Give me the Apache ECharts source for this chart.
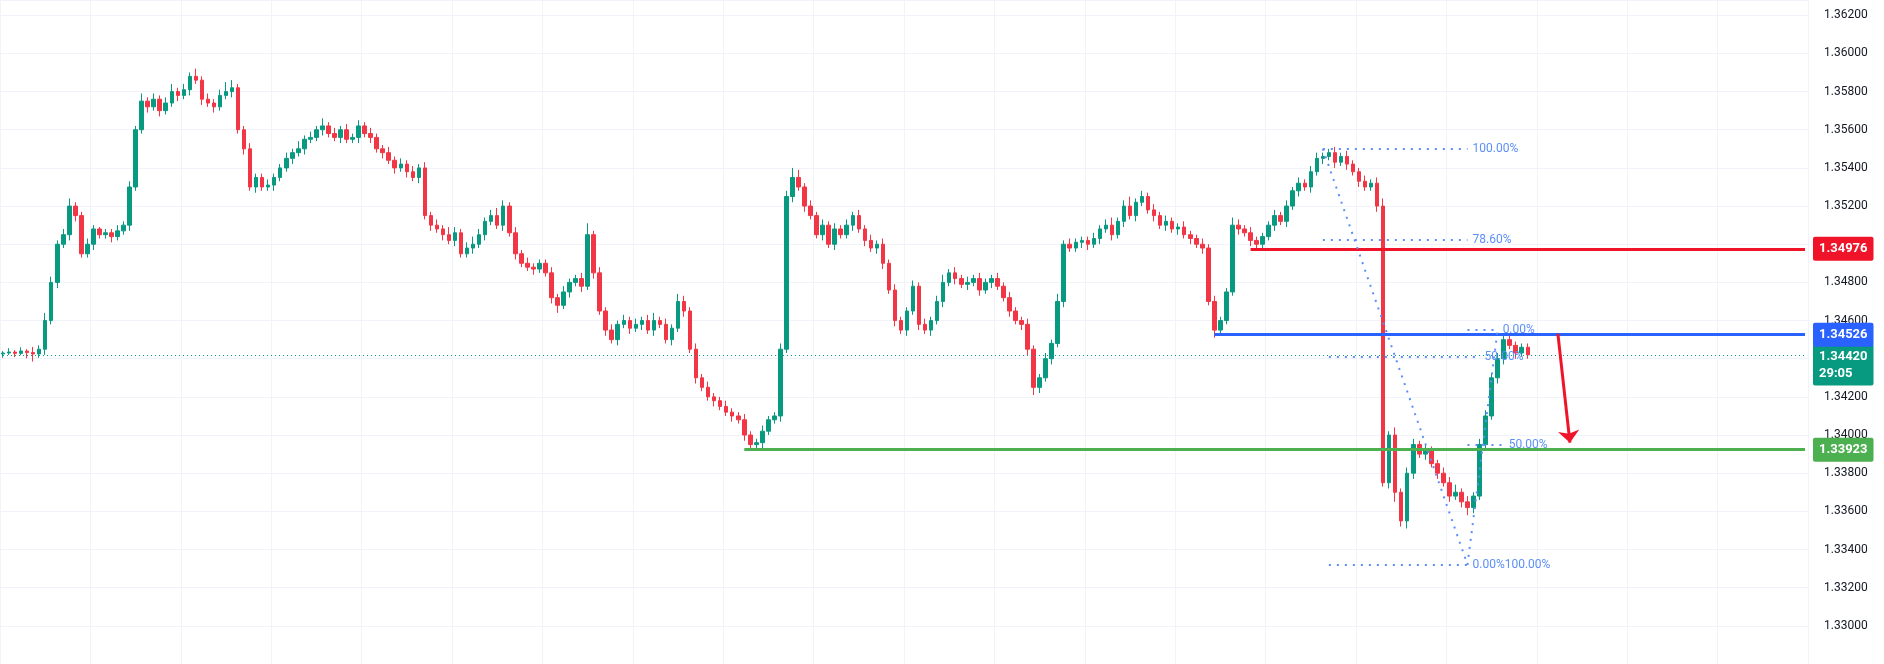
<!DOCTYPE html>
<html>
<head>
    <meta charset="utf-8">
    <title>GBPUSD</title>
    <script src="https://cdn.jsdelivr.net/npm/echarts@6/dist/echarts.min.js"></script>
    <style>body{margin:0;background:#fff}</style>
</head>
<body>
    <div id="main" style="width:1884px;height:664px"></div>
    <script type="text/javascript">
// closes, in 1e-5 above 1.30000
var closes = [
 4430,4435,4428,4440,4432,4425,4450,4600,4800,5000,
 5050,5200,5150,4950,5000,5080,5050,5060,5040,5070,
 5100,5300,5600,5750,5720,5760,5700,5740,5800,5780,
 5810,5880,5860,5760,5740,5720,5780,5800,5820,5600,
 5500,5300,5350,5300,5310,5350,5400,5450,5480,5500,
 5550,5560,5600,5620,5580,5560,5600,5550,5560,5620,
 5580,5560,5500,5480,5440,5400,5420,5380,5350,5400,
 5150,5100,5080,5050,5020,5060,4950,4980,5000,5050,
 5120,5150,5100,5200,5060,4950,4900,4880,4870,4900,
 4850,4720,4680,4750,4800,4820,4780,5050,4850,4650,
 4550,4500,4580,4600,4560,4580,4600,4550,4600,4580,
 4500,4560,4700,4650,4450,4300,4250,4200,4180,4150,
 4120,4100,4080,4000,3950,3960,4020,4080,4100,4450,
 5250,5350,5300,5200,5150,5050,5100,5000,5080,5050,
 5100,5150,5080,5020,4980,5000,4900,4760,4600,4550,
 4650,4780,4580,4550,4600,4700,4800,4850,4820,4790,
 4800,4820,4760,4800,4820,4780,4720,4650,4600,4580,
 4450,4250,4300,4400,4480,4700,5000,4980,5010,5020,
 5000,5030,5080,5100,5050,5120,5200,5150,5220,5250,
 5180,5150,5100,5120,5080,5090,5050,5030,5000,4980,
 4700,4550,4600,4750,5100,5080,5060,5020,5000,5040,
 5100,5150,5120,5200,5280,5320,5300,5380,5450,5460,
 5480,5430,5460,5420,5380,5330,5300,5320,5200,3750,
 4000,3700,3550,3800,3950,3900,3920,3850,3800,3750,
 3680,3700,3650,3620,3680,3950,4100,4300,4400,4500,
 4470,4430,4460,4420
];
// upper / lower wicks in pips
var wickUp = [
 1,2,1,2,1,3,2,4,3,2, 3,4,2,2,3,2,1,2,2,3, 2,3,2,4,2,3,2,3,4,2, 3,2,4,2,3,2,3,5,4,2,
 2,3,2,2,3,2,2,3,2,4, 2,3,2,4,2,3,2,3,2,3, 2,3,2,2,3,2,3,2,3,2, 3,2,3,2,4,3,2,3,4,3,
 2,3,4,3,2,3,2,3,2,2, 2,3,2,3,2,2,3,6,2,3, 2,3,2,3,2,3,2,3,4,2, 3,2,4,3,2,3,2,3,2,2,
 3,2,2,3,2,2,3,2,2,3, 3,5,4,2,3,2,3,2,3,2, 3,2,3,2,3,2,3,2,3,2, 2,3,2,3,2,3,4,2,3,2,
 3,2,3,2,2,3,2,3,2,2, 3,2,2,3,2,4,2,3,2,2, 2,3,2,3,4,2,3,5,2,3, 2,3,2,3,2,2,3,2,2,3,
 2,3,2,2,4,3,2,3,2,2, 2,3,2,3,2,3,2,3,3,2, 2,3,2,3,2,2,3,2,3,4, 2,4,2,3,3,2,3,2,2,3,
 3,4,2,3,2,3,3,2,3,3, 3,2,2,2
];
var wickDown = [
 2,1,2,1,3,4,2,3,2,3, 2,3,3,2,2,3,2,2,3,2, 2,3,2,2,3,2,3,2,2,3, 2,3,2,3,2,3,2,2,3,2,
 3,2,3,2,2,3,2,2,3,2, 3,2,2,3,2,2,3,2,2,3, 2,3,2,3,2,3,2,3,2,3, 2,3,2,3,2,3,2,2,3,2,
 3,2,2,3,2,3,2,2,3,2, 2,3,4,2,3,2,3,2,3,2, 3,2,3,2,3,2,3,2,3,2, 2,3,2,3,2,3,2,2,3,2,
 2,3,2,3,3,2,3,2,2,3, 2,3,2,3,2,2,3,2,3,2, 2,3,2,3,2,3,3,2,3,2, 3,2,3,2,3,2,3,2,3,2,
 3,2,3,2,3,2,2,3,2,3, 3,4,3,2,3,2,3,2,2,3, 3,2,3,2,3,2,3,2,3,2, 2,3,2,3,2,3,2,3,2,3,
 2,4,3,2,2,3,2,3,2,3, 2,3,2,3,2,3,2,3,2,3, 2,3,2,3,2,3,2,2,3,2, 3,5,3,4,3,2,3,2,3,2,
 3,2,3,4,3,2,3,2,3,3, 2,3,2,2
];
var firstOpen = 4425;
var totalSlots = 300;
var resistance = 1.34976, pivot = 1.34526, takeProfit = 1.33923, lastPrice = 1.34420;
var yTicks = { min: 1.328, max: 1.3628, step: 0.002 };

var cats = [], candles = [];
for (var i = 0; i < totalSlots; i++) cats.push(String(i));
var prev = firstOpen;
for (var i = 0; i < closes.length; i++) {
    var o = prev, c = closes[i];
    var h = Math.max(o, c) + wickUp[i] * 10, l = Math.min(o, c) - wickDown[i] * 10;
    candles.push([1.3 + o / 1e5, 1.3 + c / 1e5, 1.3 + l / 1e5, 1.3 + h / 1e5]);
    prev = c;
}
var last = totalSlots - 1;
var fibC = '#5b8ff9';
var font = 'Roboto';

function lvl(from, v, color, width, type, label) {
    return [{ coord: [from, v], lineStyle: { color: color, width: width, type: type }, label: label },
            { coord: [last, v] }];
}
function tag(v, bg, text, dy) {
    return { show: true, position: 'end', distance: 8, formatter: text, color: '#fff', backgroundColor: bg,
             offset: [0, dy || 0],
             padding: [4, 6, 3, 6], borderRadius: 2, fontFamily: font, fontSize: 13, fontWeight: 'bold', lineHeight: 17 };
}
function fib(a, b, v, text) {
    return [{ coord: [a, v], lineStyle: { color: fibC, width: 2, type: [2, 6] },
              label: { show: true, position: 'end', formatter: text, color: fibC, fontFamily: font, fontSize: 12 } },
            { coord: [b, v] }];
}

var myChart = echarts.init(document.getElementById('main'));
myChart.setOption({
    animation: false,
    backgroundColor: '#fff',
    grid: { left: 0, right: 76, top: 0, bottom: -3 },
    xAxis: {
        type: 'category', data: cats, boundaryGap: true,
        axisLine: { show: false }, axisTick: { show: false }, axisLabel: { show: false },
        splitLine: { show: true, interval: 14, lineStyle: { color: '#f0f3fa' } }
    },
    yAxis: {
        type: 'value', position: 'right', min: yTicks.min, max: yTicks.max, interval: yTicks.step,
        axisLine: { show: false }, axisTick: { show: false },
        axisLabel: { showMaxLabel: false, showMinLabel: false, margin: 16, color: '#131722', fontFamily: font, fontSize: 12,
                     formatter: function (v) { return v.toFixed(5); } },
        splitLine: { lineStyle: { color: '#f0f3fa' } }
    },
    series: [{
        type: 'candlestick', data: candles, barWidth: 4,
        itemStyle: { color: '#089981', color0: '#f23645', borderColor: '#089981', borderColor0: '#f23645', borderWidth: 1 },
        markLine: {
            silent: true, symbol: 'none', animation: false,
            data: [
                [{ coord: [0, lastPrice], lineStyle: { color: '#089981', width: 1, type: [1, 3] }, label: tag(lastPrice, '#089981', '1.34420\n29:05', 10) }, { coord: [last, lastPrice] }],
                lvl(207, resistance, '#f0142a', 3, 'solid', tag(resistance, '#f0142a', '1.34976')),
                lvl(201, pivot, '#2962ff', 3, 'solid', tag(pivot, '#2962ff', '1.34526')),
                lvl(123, takeProfit, '#4caf50', 3, 'solid', tag(takeProfit, '#4caf50', '1.33923')),
                [{ coord: [last - 1, resistance], lineStyle: { opacity: 0 }, label: { show: true, position: 'insideEndTop', formatter: '1st Resistance', color: '#f0142a', fontFamily: font, fontSize: 14, distance: 4 } }, { coord: [last, resistance] }],
                [{ coord: [last - 1, pivot], lineStyle: { opacity: 0 }, label: { show: true, position: 'insideEndTop', formatter: 'Pivot', color: '#2962ff', fontFamily: font, fontSize: 14, distance: 4 } }, { coord: [last, pivot] }],
                [{ coord: [last - 1, takeProfit], lineStyle: { opacity: 0 }, label: { show: true, position: 'insideEndTop', formatter: 'Take Profit', color: '#4caf50', fontFamily: font, fontSize: 14, distance: 4 } }, { coord: [last, takeProfit] }],
                fib(219, 243, 1.3550, '100.00%'),
                fib(219, 243, 1.35021, '78.60%'),
                fib(220, 245, 1.3441, '50.00%'),
                fib(220, 243, 1.3332, '0.00%100.00%'),
                fib(243, 248, 1.3455, '0.00%'),
                fib(243, 249, 1.3395, '50.00%'),
                [{ coord: [219, 1.3550], lineStyle: { color: fibC, width: 2, type: [2, 6] } }, { coord: [243, 1.3332] }],
                [{ coord: [243, 1.3332], lineStyle: { color: fibC, width: 2, type: [2, 6] } }, { coord: [248, 1.3455] }],
                [{ coord: [258, 1.3453], symbol: 'none', lineStyle: { color: '#f0142a', width: 3, type: 'solid' } },
                 { coord: [260, 1.3396], symbol: 'arrow', symbolSize: [16, 12] }]
            ]
        }
    }]
});
    </script>
</body>
</html>
